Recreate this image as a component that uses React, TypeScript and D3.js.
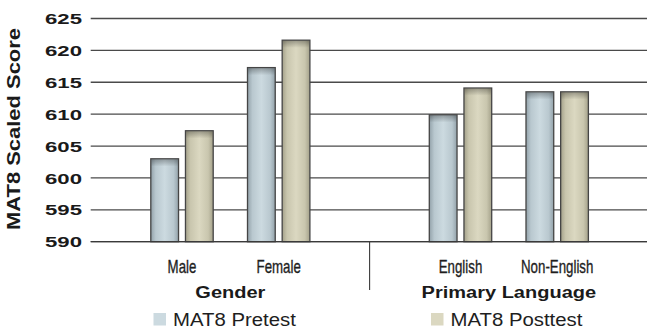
import React from "react";
import * as d3 from "d3";

// Data
const categories = ["Male", "Female", "English", "Non-English"];
const categoryGroup = [0, 0, 1, 1];
const groups = ["Gender", "Primary Language"];
const seriesNames = ["MAT8 Pretest", "MAT8 Posttest"];
const pretest = [603.0, 617.3, 609.9, 613.5];
const posttest = [607.4, 621.6, 614.1, 613.5];
const yTicks = [590, 595, 600, 605, 610, 615, 620, 625];

const W = 647;
const H = 330;
const plotLeft = 90.7;
const plotRight = 647;
const yTop = 18.5;
const yBottom = 241.7;
const groupGap = 0.88; // extra slot units between groups

const fills = [
  { id: "gradPre", edge: "#93a2aa", mid1: "#b9c8cf", mid: "#ccdae0" },
  { id: "gradPost", edge: "#a4a18a", mid1: "#c9c6ae", mid: "#dbd8c1" },
];

export default function App() {
  const y = d3.scaleLinear().domain([590, 625]).range([yBottom, yTop]);
  const slot = d3.scaleLinear().domain([0, 1]).range([182, 278.7]);
  const slotPos = categories.map((_, i) => i + categoryGroup[i] * groupGap);
  const cx = slotPos.map((s) => slot(s));
  const inner = d3.scaleBand().domain(seriesNames).range([-31.2, 31.2]).paddingInner(0.2);
  const values = [pretest, posttest];

  const sepX = slot((slotPos[1] + slotPos[2]) / 2);
  const groupCenters = groups.map((_, g) => {
    const xs = cx.filter((_, i) => categoryGroup[i] === g);
    return (d3.min(xs)! + d3.max(xs)!) / 2;
  });

  const font = "'Liberation Sans', Arial, Helvetica, sans-serif";

  return (
    <div style={{ position: "absolute", left: 0, top: 0 }}>
      <svg width={W} height={H} style={{ display: "block", background: "#fff" }}>
        <defs>
          {fills.map((f) => (
            <linearGradient key={f.id} id={f.id} x1="0" x2="1" y1="0" y2="0">
              <stop offset="0%" stopColor={f.edge} />
              <stop offset="18%" stopColor={f.mid1} />
              <stop offset="50%" stopColor={f.mid} />
              <stop offset="82%" stopColor={f.mid1} />
              <stop offset="100%" stopColor={f.edge} />
            </linearGradient>
          ))}
          <linearGradient id="topShade" x1="0" x2="0" y1="0" y2="1">
            <stop offset="0%" stopColor="#000" stopOpacity={0.28} />
            <stop offset="100%" stopColor="#000" stopOpacity={0} />
          </linearGradient>
        </defs>

        {/* horizontal gridlines */}
        {yTicks.map((t) => (
          <line
            key={t}
            x1={plotLeft}
            x2={plotRight}
            y1={y(t)}
            y2={y(t)}
            stroke="#4a4a4a"
            strokeWidth={1.3}
          />
        ))}

        {/* y tick labels */}
        {yTicks.map((t) => (
          <text
            key={"l" + t}
            x={82}
            y={y(t) + 5.6}
            textAnchor="end"
            fontFamily={font}
            fontWeight="bold"
            fontSize={15.5}
            fill="#1a1a1a"
            textLength={37}
            lengthAdjust="spacingAndGlyphs"
          >
            {t}
          </text>
        ))}

        {/* y axis title */}
        <text
          transform={`translate(20,129) rotate(-90)`}
          textAnchor="middle"
          fontFamily={font}
          fontWeight="bold"
          fontSize={17.5}
          fill="#1a1a1a"
          textLength={202}
          lengthAdjust="spacingAndGlyphs"
        >
          MAT8 Scaled Score
        </text>

        {/* bars */}
        {categories.map((c, i) =>
          seriesNames.map((s, k) => {
            const x0 = cx[i] + inner(s)!;
            const bw = inner.bandwidth();
            const top = y(values[k][i]);
            return (
              <g key={c + s}>
                <rect
                  x={x0}
                  y={top}
                  width={bw}
                  height={yBottom - top}
                  fill={`url(#${fills[k].id})`}
                  stroke="#454545"
                  strokeWidth={1.3}
                />
                <rect x={x0 + 0.7} y={top + 0.7} width={bw - 1.4} height={7} fill="url(#topShade)" />
              </g>
            );
          })
        )}

        {/* baseline over bars */}
        <line x1={plotLeft} x2={plotRight} y1={yBottom} y2={yBottom} stroke="#3a3a3a" strokeWidth={1.3} />

        {/* group separator */}
        <line x1={sepX} x2={sepX} y1={yBottom} y2={290} stroke="#3a3a3a" strokeWidth={1.1} />

        {/* category labels (condensed) */}
        {categories.map((c, i) => (
          <text
            key={"c" + c}
            transform={`translate(${cx[i]},272.5) scale(0.7,1)`}
            textAnchor="middle"
            fontFamily={font}
            fontSize={19}
            fill="#1e1e1e"
            stroke="#1e1e1e"
            strokeWidth={0.35}
          >
            {c}
          </text>
        ))}

        {/* group labels */}
        {groups.map((g, gi) => (
          <text
            key={"g" + g}
            transform={`translate(${groupCenters[gi]},298) scale(1.25,1)`}
            textAnchor="middle"
            fontFamily={font}
            fontWeight="bold"
            fontSize={16}
            fill="#1a1a1a"
          >
            {g}
          </text>
        ))}

        {/* legend */}
        {seriesNames.map((s, k) => {
          const lx = [153.5, 431][k];
          return (
            <g key={"lg" + s}>
              <rect x={lx} y={313} width={12.5} height={12.5} fill={fills[k].mid} />
              <text
                transform={`translate(${lx + 19.5},325.5) scale(1.1,1)`}
                fontFamily={font}
                fontSize={18.5}
                fill="#1e1e1e"
              >
                {s}
              </text>
            </g>
          );
        })}
      </svg>
    </div>
  );
}
